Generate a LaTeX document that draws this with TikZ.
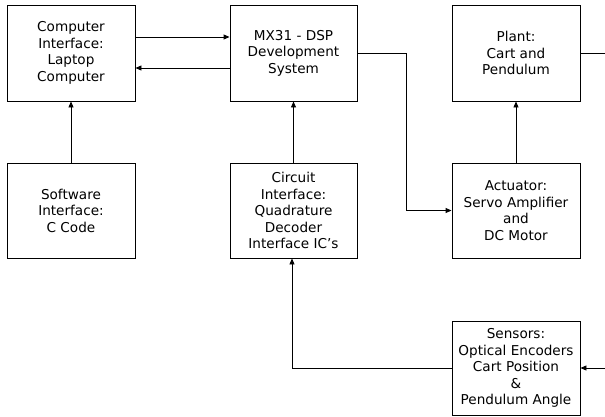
\documentclass[tikz,border=0pt]{standalone}
\usepackage{fontspec}
\setmainfont{DejaVu Sans}
\usetikzlibrary{arrows.meta}

\tikzset{
  block/.style={draw, line width=0.9pt, fill=white, align=center,
    minimum width=128pt, minimum height=96pt, inner sep=0pt,
    font=\fontsize{13.6}{16.5}\selectfont},
  link/.style={line width=0.9pt},
  flow/.style={link, -{Triangle[length=6pt,width=5pt]}}
}

\begin{document}
\begin{tikzpicture}[x=1pt,y=-1pt]
  \useasboundingbox (0,0) rectangle (605,416);

  % top row
  \node[block] (comp)  at (71,53)    {Computer\\Interface:\\Laptop\\Computer};
  \node[block, minimum width=127pt] (dsp) at (293.5,53) {MX31 - DSP\\Development\\System};
  \node[block] (plant) at (516,53)   {Plant:\\Cart and\\Pendulum};

  % middle row
  \node[block, minimum height=95pt] (soft) at (71,210.5)  {Software\\Interface:\\C Code};
  \node[block, minimum width=127pt, minimum height=95pt] (circ) at (293.5,210.5)
    {Circuit\\Interface:\\Quadrature\\Decoder\\Interface IC{\char"27}s};
  \node[block, minimum height=95pt] (act)  at (516,210.5) {Actuator:\\Servo Amplifier\\and\\DC Motor};

  % bottom row
  \node[block, minimum height=94pt] (sens) at (516,368)
    {Sensors:\\Optical Encoders\\Cart Position\\\&\\Pendulum Angle};

  % free ends and bends
  \coordinate (dspbend) at (406,53);
  \coordinate (plantout) at (605,53);
  \coordinate (sensin) at (605,368);

  % connectors
  \draw[flow] ([yshift=16pt]comp.east) -- ([yshift=16pt]dsp.west);
  \draw[flow] ([yshift=-15pt]dsp.west) -- ([yshift=-15pt]comp.east);
  \draw[flow] (dsp.east) -- (dspbend) |- (act.west);
  \draw[link] (plant.east) -- (plantout);
  \draw[flow] (soft.north) -- (comp.south);
  \draw[flow] (circ.north) -- (dsp.south);
  \draw[flow] (act.north) -- (plant.south);
  \draw[flow] (sens.west) -| ([xshift=-1.5pt]circ.south);
  \draw[flow] (sensin) -- (sens.east);
\end{tikzpicture}
\end{document}
